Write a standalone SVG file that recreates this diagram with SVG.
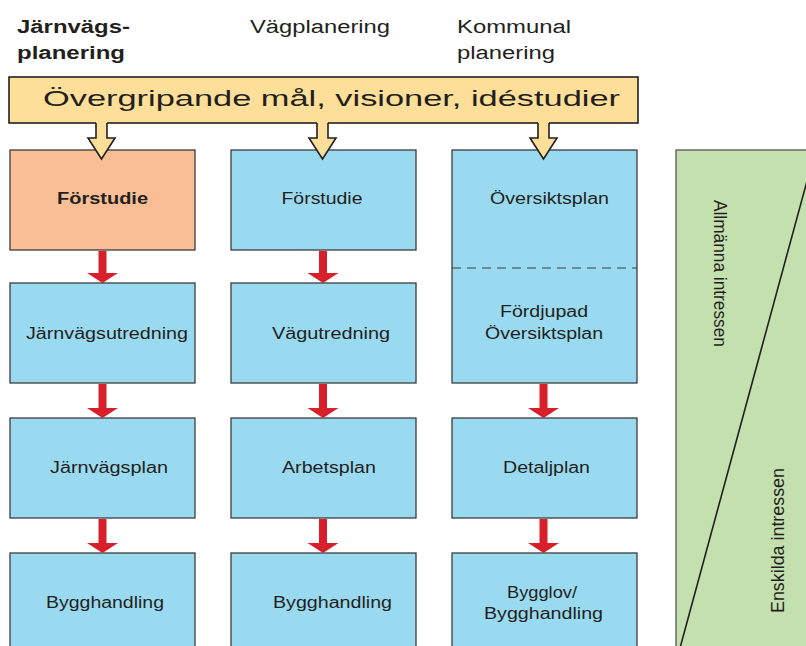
<svg xmlns="http://www.w3.org/2000/svg" width="806" height="646" viewBox="0 0 806 646">
<style>
text{font-family:"Liberation Sans",Arial,sans-serif;fill:#231f20}
.hd{font-size:18px}
.lb{font-size:16px}
.vt{font-size:18px}
.box{fill:#9adaf0;stroke:#3c3c3c;stroke-width:1.3}
.ra{fill:#d7202a}
.ya{fill:#fddf99}
.yl{fill:none;stroke:#231f20;stroke-width:1.6;stroke-linejoin:miter}
</style>
<rect width="806" height="646" fill="#fff"/>
<g id="headers">
<text class="hd" x="17" y="33" font-weight="bold" textLength="113" lengthAdjust="spacingAndGlyphs">Järnvägs-</text>
<text class="hd" x="17" y="59" font-weight="bold" textLength="108" lengthAdjust="spacingAndGlyphs">planering</text>
<text class="hd" x="250" y="33" textLength="140" lengthAdjust="spacingAndGlyphs">Vägplanering</text>
<text class="hd" x="457" y="33" textLength="114" lengthAdjust="spacingAndGlyphs">Kommunal</text>
<text class="hd" x="457" y="59" textLength="98" lengthAdjust="spacingAndGlyphs">planering</text>
</g>
<g id="interests">
<rect x="676" y="150" width="140" height="510" fill="#c4e0ae" stroke="#555" stroke-width="1.3"/>
<line x1="680" y1="648" x2="807" y2="181" stroke="#231f20" stroke-width="1.6"/>
<text class="vt" transform="translate(714,200) rotate(90)" textLength="147" lengthAdjust="spacingAndGlyphs">Allmänna intressen</text>
<text class="vt" transform="translate(784,613) rotate(-90)" textLength="145" lengthAdjust="spacingAndGlyphs">Enskilda intressen</text>
</g>
<g id="n-forstudie-j"><rect x="10" y="150" width="185" height="100" fill="#f9be96" stroke="#3c3c3c" stroke-width="1.3"/><text class="lb" x="102.5" y="204" text-anchor="middle" font-weight="bold" textLength="91" lengthAdjust="spacingAndGlyphs">Förstudie</text></g>
<g id="n-forstudie-v"><rect class="box" x="231" y="150" width="185" height="100"/><text class="lb" x="322" y="204" text-anchor="middle" textLength="81" lengthAdjust="spacingAndGlyphs">Förstudie</text></g>
<g id="n-oversiktsplan"><rect class="box" x="452" y="150" width="185" height="233"/><line x1="452" y1="268" x2="637" y2="268" stroke="#3c3c3c" stroke-width="1.2" stroke-dasharray="9,6"/><text class="lb" x="549.5" y="204" text-anchor="middle" textLength="119" lengthAdjust="spacingAndGlyphs">Översiktsplan</text><text class="lb" x="544" y="317" text-anchor="middle" textLength="88" lengthAdjust="spacingAndGlyphs">Fördjupad</text><text class="lb" x="544" y="339" text-anchor="middle" textLength="118" lengthAdjust="spacingAndGlyphs">Översiktsplan</text></g>
<g id="n-jarnvagsutredning"><rect class="box" x="10" y="283" width="185" height="100"/><text class="lb" x="107" y="339" text-anchor="middle" textLength="162" lengthAdjust="spacingAndGlyphs">Järnvägsutredning</text></g>
<g id="n-vagutredning"><rect class="box" x="231" y="283" width="185" height="100"/><text class="lb" x="331" y="339" text-anchor="middle" textLength="118" lengthAdjust="spacingAndGlyphs">Vägutredning</text></g>
<g id="n-jarnvagsplan"><rect class="box" x="10" y="418" width="185" height="100"/><text class="lb" x="109" y="473" text-anchor="middle" textLength="118" lengthAdjust="spacingAndGlyphs">Järnvägsplan</text></g>
<g id="n-arbetsplan"><rect class="box" x="231" y="418" width="185" height="100"/><text class="lb" x="329" y="473" text-anchor="middle" textLength="94" lengthAdjust="spacingAndGlyphs">Arbetsplan</text></g>
<g id="n-detaljplan"><rect class="box" x="452" y="418" width="185" height="100"/><text class="lb" x="546.5" y="473" text-anchor="middle" textLength="87" lengthAdjust="spacingAndGlyphs">Detaljplan</text></g>
<g id="n-bygg-j"><rect class="box" x="10" y="553" width="185" height="110"/><text class="lb" x="105" y="608" text-anchor="middle" textLength="118" lengthAdjust="spacingAndGlyphs">Bygghandling</text></g>
<g id="n-bygg-v"><rect class="box" x="231" y="553" width="185" height="110"/><text class="lb" x="332.5" y="608" text-anchor="middle" textLength="119" lengthAdjust="spacingAndGlyphs">Bygghandling</text></g>
<g id="n-bygglov"><rect class="box" x="452" y="553" width="185" height="110"/><text class="lb" x="542" y="598" text-anchor="middle" textLength="70" lengthAdjust="spacingAndGlyphs">Bygglov/</text><text class="lb" x="543.5" y="619" text-anchor="middle" textLength="119" lengthAdjust="spacingAndGlyphs">Bygghandling</text></g>
<g id="n-overgripande">
<rect x="9" y="77" width="629" height="46" fill="#fddf99" stroke="#231f20" stroke-width="1.6"/>
<text x="43" y="106" font-size="22" textLength="577" lengthAdjust="spacingAndGlyphs">Övergripande mål, visioner, idéstudier</text>
</g>
<g id="connectors">
<polygon class="ya" points="96,121 96,138 88,138 101.5,159 115,138 107,138 107,121"/>
<polyline class="yl" points="96,123 96,138 88,138 101.5,159 115,138 107,138 107,123"/>
<polygon class="ya" points="317,121 317,138 309,138 322.5,159 336,138 328,138 328,121"/>
<polyline class="yl" points="317,123 317,138 309,138 322.5,159 336,138 328,138 328,123"/>
<polygon class="ya" points="538,121 538,138 530,138 543.5,159 557,138 549,138 549,121"/>
<polyline class="yl" points="538,123 538,138 530,138 543.5,159 557,138 549,138 549,123"/>
<polygon class="ra" points="98.5,251 106.5,251 106.5,273 118,273 102.5,283 87,273 98.5,273"/>
<polygon class="ra" points="319,251 327,251 327,273 338.5,273 323,283 307.5,273 319,273"/>
<polygon class="ra" points="98.5,384 106.5,384 106.5,408 118,408 102.5,418 87,408 98.5,408"/>
<polygon class="ra" points="319,384 327,384 327,408 338.5,408 323,418 307.5,408 319,408"/>
<polygon class="ra" points="539.5,384 547.5,384 547.5,408 559,408 543.5,418 528,408 539.5,408"/>
<polygon class="ra" points="98.5,519 106.5,519 106.5,543 118,543 102.5,553 87,543 98.5,543"/>
<polygon class="ra" points="319,519 327,519 327,543 338.5,543 323,553 307.5,543 319,543"/>
<polygon class="ra" points="539.5,519 547.5,519 547.5,543 559,543 543.5,553 528,543 539.5,543"/>
</g>
</svg>
